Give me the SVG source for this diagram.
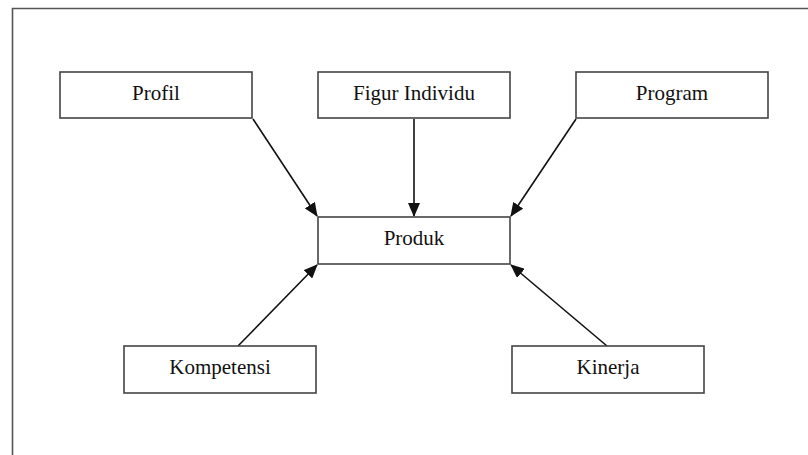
<svg xmlns="http://www.w3.org/2000/svg" width="808" height="455" viewBox="0 0 808 455">
<style>
.box{fill:#fff;stroke:#444;stroke-width:1.6}
.lbl{font-family:"Liberation Serif","Times New Roman",serif;font-size:21px;fill:#111;text-anchor:middle}
.con{stroke:#111;stroke-width:1.6;fill:none;marker-end:url(#ah)}
</style>
<defs>
<marker id="ah" markerUnits="userSpaceOnUse" markerWidth="14" markerHeight="12" viewBox="0 0 14 12" refX="13" refY="6" orient="auto">
<path d="M0,0 L14,6 L0,12 Z" fill="#111"/>
</marker>
</defs>
<rect x="0" y="0" width="808" height="455" fill="#fff"/>
<path d="M12.5,455 L12.5,8.5 L808,8.5" fill="none" stroke="#555" stroke-width="1.6"/>
<g id="connectors">
<line class="con" x1="253" y1="119" x2="317" y2="216"/>
<line class="con" x1="414" y1="119" x2="414" y2="216"/>
<line class="con" x1="576" y1="119" x2="511" y2="216"/>
<line class="con" x1="238" y1="346" x2="317" y2="265"/>
<line class="con" x1="607" y1="346" x2="511" y2="265"/>
</g>
<g id="profil"><rect class="box" x="60" y="72" width="192" height="46"/><text class="lbl" x="156" y="100">Profil</text></g>
<g id="figur"><rect class="box" x="318" y="72" width="192" height="46"/><text class="lbl" x="414" y="100">Figur Individu</text></g>
<g id="program"><rect class="box" x="576" y="72" width="192" height="46"/><text class="lbl" x="672" y="100">Program</text></g>
<g id="produk"><rect class="box" x="318" y="217" width="192" height="47"/><text class="lbl" x="414" y="245">Produk</text></g>
<g id="kompetensi"><rect class="box" x="124" y="346" width="192" height="47"/><text class="lbl" x="220" y="374">Kompetensi</text></g>
<g id="kinerja"><rect class="box" x="512" y="346" width="192" height="47"/><text class="lbl" x="608" y="374">Kinerja</text></g>
</svg>
